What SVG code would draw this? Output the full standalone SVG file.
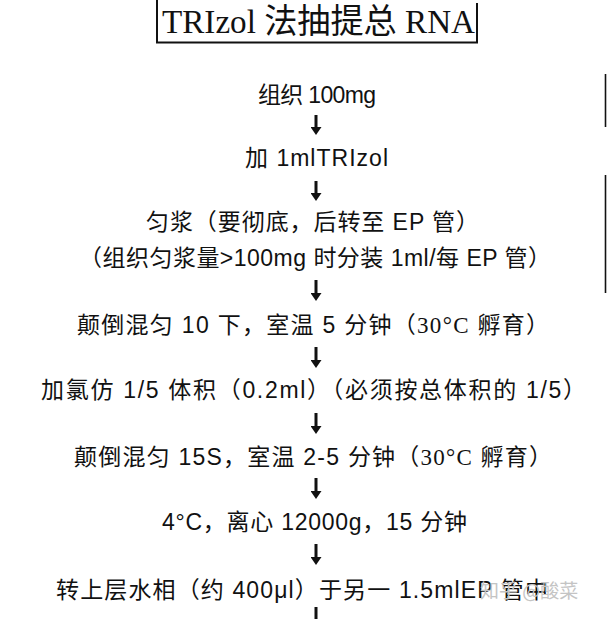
<svg xmlns="http://www.w3.org/2000/svg" width="607" height="619" viewBox="0 0 607 619">
<style>
.t{font-family:"Liberation Sans","Noto Sans CJK SC",sans-serif;font-size:23px;fill:#111;}
.s{font-family:"Liberation Serif","Noto Sans CJK SC",serif;}
.ttl{font-family:"Liberation Serif","Noto Sans CJK SC",serif;font-size:34px;fill:#111;}
.ln{stroke:#111;fill:none;}
.ar{stroke:#111;stroke-width:3;fill:none;marker-end:url(#ah);}
.wm{font-family:"Noto Sans CJK SC",sans-serif;font-size:19px;fill:#c4c4c4;}
</style>
<defs>
<marker id="ah" markerUnits="userSpaceOnUse" viewBox="0 0 8 11" markerWidth="8" markerHeight="11" refX="0" refY="5.5" orient="auto">
<path d="M0,0 L8,5.5 L0,11 z" fill="#111"/>
</marker>
</defs>
<rect width="607" height="619" fill="#fff"/>
<g id="title">
<polyline class="ln" stroke-width="2" points="157,0 157,42.5 477,42.5 477,3"/>
<text class="ttl" x="162" y="33" textLength="313" lengthAdjust="spacingAndGlyphs">TRIzol 法抽提总 RNA</text>
</g>
<g id="edge">
<line class="ln" stroke-width="1.6" x1="605.5" y1="74" x2="605.5" y2="127"/>
<line class="ln" stroke-width="1.6" x1="605.5" y1="175" x2="605.5" y2="293"/>
</g>
<g id="step1"><text class="t" x="258" y="103" textLength="118">组织 100mg</text></g>
<g id="step2"><text class="t" x="245" y="166" textLength="143">加 1mlTRIzol</text></g>
<g id="step3">
<text class="t" x="146" y="230" textLength="333">匀浆（要彻底，后转至 EP 管）</text>
<text class="t" x="79" y="266" textLength="472">（组织匀浆量&gt;100mg 时分装 1ml/每 EP 管）</text>
</g>
<g id="step4"><text class="t" x="77" y="333" textLength="472">颠倒混匀 10 下，室温 5 分钟（<tspan class="s">30°C</tspan> 孵育）</text></g>
<g id="step5"><text class="t" x="41" y="398" textLength="545">加氯仿 1/5 体积（0.2ml）（必须按总体积的 1/5）</text></g>
<g id="step6"><text class="t" x="74" y="465" textLength="478">颠倒混匀 15S，室温 2-5 分钟（<tspan class="s">30°C</tspan> 孵育）</text></g>
<g id="step7"><text class="t" x="162" y="530" textLength="305">4°C，离心 12000g，15 分钟</text></g>
<g id="step8"><text class="t" x="56" y="598" textLength="492">转上层水相（约 400μl）于另一 1.5mlEP 管中</text></g>
<g id="connectors">
<line class="ar" x1="316" y1="115" x2="316" y2="127"/>
<line class="ar" x1="316" y1="181" x2="316" y2="193"/>
<line class="ar" x1="316" y1="280" x2="316" y2="293"/>
<line class="ar" x1="316" y1="347" x2="316" y2="360"/>
<line class="ar" x1="316" y1="413" x2="316" y2="426"/>
<line class="ar" x1="316" y1="478" x2="316" y2="491"/>
<line class="ar" x1="316" y1="544" x2="316" y2="557"/>
<line class="ar" x1="316" y1="607" x2="316" y2="622"/>
</g>
<g id="watermark"><text class="wm" x="480" y="598">知乎 @酸菜</text></g>
</svg>
